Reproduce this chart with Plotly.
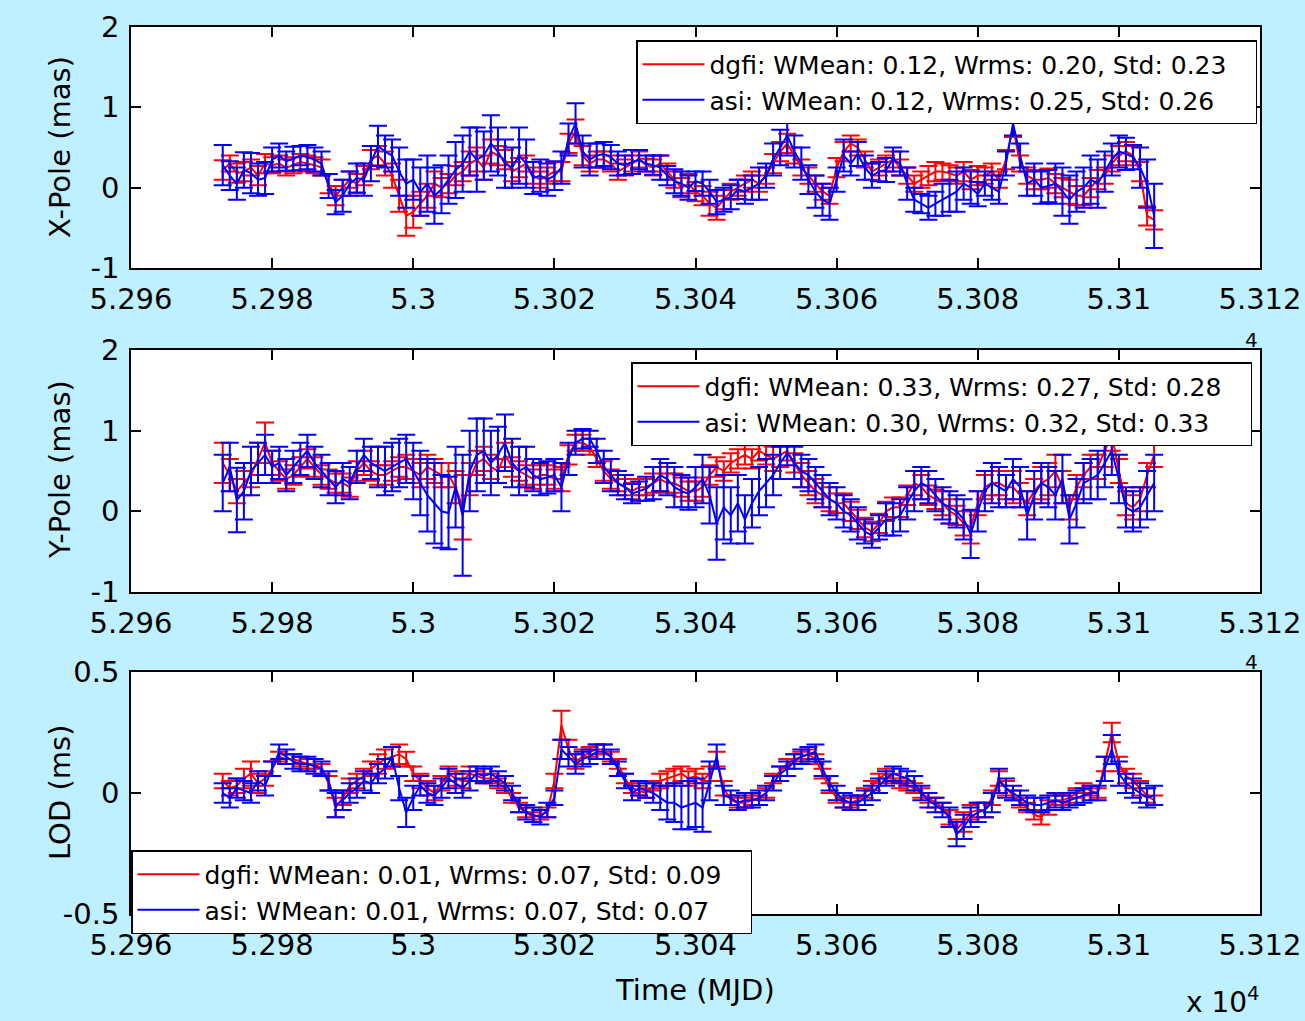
import plotly.graph_objects as go

# ---------------- data (daily MJD) ----------------
MJD = list(range(52973, 53106))

XP_ASI = [0.28,0.15, 0.05,0.22, 0.18,0.10, 0.12,0.35, 0.40,0.33, 0.36,0.40, 0.38,0.35, 0.30,0.02, -0.18,-0.10, 0.05,0.12,
          0.10,0.30, 0.52,0.45, 0.40,0.20, 0.05,0.10, -0.05,0.05, -0.10,-0.02, 0.10,0.22, 0.30,0.45, 0.35,0.40, 0.55,0.45,
          0.30,0.25, 0.40,0.30, 0.12,0.15, 0.10,0.15, 0.25,0.60, 0.80,0.45, 0.35,0.40, 0.42,0.38, 0.30,0.28, 0.32,0.35,
          0.30,0.28, 0.25,0.15, 0.08,0.05, 0.00,0.08, 0.05,-0.05, -0.18,-0.15, -0.12,-0.02, -0.05,0.00, 0.05,0.15, 0.35,0.50,
          0.65,0.45, 0.30,0.10, -0.05,-0.15, -0.20,0.10, 0.40,0.30, 0.42,0.25, 0.15,0.20, 0.22,0.35, 0.30,0.05, -0.15,-0.20,
          -0.25,-0.20, -0.15,-0.10, -0.05,0.05, 0.00,-0.08, 0.05,0.00, -0.05,0.30, 0.80,0.40, 0.05,0.10, 0.00,0.02, 0.05,-0.05,
          -0.15,-0.05, 0.00,0.10, 0.05,0.20, 0.35,0.45, 0.42,0.38, 0.25,0.05, -0.35]
XP_ASI_ERR = [0.25,0.18, 0.2,0.22, 0.25,0.2, 0.2,0.15, 0.15,0.12, 0.15,0.12, 0.15,0.15, 0.15,0.15, 0.15,0.2, 0.15,0.18,
              0.2,0.22, 0.25,0.2, 0.2,0.3, 0.3,0.25, 0.3,0.35, 0.35,0.3, 0.3,0.35, 0.35,0.3, 0.4,0.3, 0.35,0.3,
              0.3,0.25, 0.35,0.3, 0.2,0.2, 0.2,0.18, 0.2,0.2, 0.25,0.2, 0.2,0.15, 0.15,0.15, 0.15,0.12, 0.15,0.12,
              0.1,0.12, 0.15,0.12, 0.15,0.15, 0.15,0.12, 0.15,0.15, 0.15,0.15, 0.15,0.12, 0.15,0.15, 0.2,0.15, 0.2,0.22,
              0.25,0.2, 0.2,0.18, 0.2,0.2, 0.2,0.15, 0.2,0.15, 0.15,0.15, 0.15,0.12, 0.15,0.15, 0.15,0.2, 0.15,0.12,
              0.15,0.15, 0.2,0.2, 0.25,0.2, 0.2,0.15, 0.15,0.15, 0.15,0.15, 0.15,0.15, 0.15,0.2, 0.2,0.2, 0.25,0.3,
              0.3,0.25, 0.25,0.3, 0.3,0.25, 0.2,0.2, 0.2,0.15, 0.25,0.3, 0.4]
XP_DGFI = [0.22,0.30, 0.18,0.20, 0.25,0.15, 0.30,0.28, 0.30,0.25, 0.28,0.32, 0.30,0.28, 0.25,0.05, -0.10,0.00, 0.10,0.05,
           0.15,0.35, 0.40,0.30, 0.15,-0.10, -0.35,-0.30, -0.20,-0.10, 0.05,0.00, 0.05,0.15, 0.20,0.30, 0.35,0.25, 0.45,0.40,
           0.35,0.20, 0.25,0.30, 0.15,0.10, 0.15,0.20, 0.20,0.55, 0.70,0.40, 0.30,0.35, 0.35,0.30, 0.20,0.25, 0.30,0.35,
           0.28,0.25, 0.30,0.20, 0.10,0.00, 0.05,-0.05, -0.10,-0.20, -0.25,-0.15, -0.05,0.00, 0.05,0.10, 0.05,0.15, 0.30,0.45,
           0.55,0.40, 0.25,0.15, 0.05,-0.05, -0.10,0.25, 0.45,0.55, 0.50,0.35, 0.20,0.25, 0.30,0.35, 0.25,0.15, 0.05,0.10,
           0.15,0.20, 0.20,0.18, 0.15,0.20, 0.10,0.15, 0.15,0.20, 0.10,0.35, 0.75,0.30, 0.15,0.10, 0.10,0.12, 0.05,0.00,
           -0.05,-0.10, -0.10,0.00, 0.10,0.15, 0.30,0.40, 0.45,0.40, 0.20,-0.35, -0.40]
XP_DGFI_ERR = [0.12,0.1, 0.12,0.12, 0.1,0.12, 0.12,0.1, 0.1,0.1, 0.1,0.1, 0.1,0.1, 0.1,0.12, 0.12,0.1, 0.1,0.12,
               0.12,0.12, 0.12,0.15, 0.15,0.2, 0.25,0.2, 0.15,0.15, 0.15,0.12, 0.12,0.12, 0.12,0.15, 0.15,0.15, 0.15,0.12,
               0.12,0.12, 0.12,0.1, 0.1,0.1, 0.1,0.12, 0.12,0.12, 0.15,0.12, 0.1,0.1, 0.1,0.1, 0.1,0.1, 0.1,0.1,
               0.08,0.1, 0.1,0.1, 0.1,0.12, 0.12,0.12, 0.12,0.15, 0.15,0.12, 0.1,0.1, 0.1,0.1, 0.1,0.1, 0.12,0.12,
               0.12,0.1, 0.1,0.1, 0.1,0.1, 0.1,0.12, 0.12,0.1, 0.1,0.1, 0.1,0.1, 0.1,0.1, 0.1,0.1, 0.1,0.1,
               0.12,0.12, 0.1,0.1, 0.1,0.12, 0.12,0.12, 0.1,0.1, 0.1,0.12, 0.12,0.1, 0.1,0.12, 0.12,0.12, 0.12,0.12,
               0.15,0.12, 0.12,0.12, 0.12,0.1, 0.1,0.12, 0.12,0.12, 0.12,0.12, 0.12]

YP_ASI = [0.35,0.55, 0.14,0.25, 0.50,0.60, 0.70,0.55, 0.60,0.45, 0.55,0.65, 0.75,0.60, 0.50,0.40, 0.30,0.40, 0.35,0.55,
          0.70,0.60, 0.55,0.50, 0.55,0.60, 0.65,0.50, 0.35,0.20, 0.10,0.00, -0.02,0.30, -0.05,0.50, 0.70,0.75, 0.60,0.70,
          0.85,0.60, 0.50,0.55, 0.45,0.40, 0.42,0.45, 0.30,0.65, 0.85,0.90, 0.90,0.75, 0.55,0.45, 0.35,0.30, 0.22,0.25,
          0.28,0.35, 0.45,0.40, 0.30,0.25, 0.22,0.30, 0.40,0.20, -0.15,0.05, -0.05,0.10, -0.10,0.10, 0.25,0.35, 0.45,0.60,
          0.72,0.60, 0.50,0.45, 0.35,0.25, 0.15,0.10, 0.00,-0.05, -0.15,-0.25, -0.30,-0.20, -0.10,-0.10, -0.05,0.10, 0.25,0.35,
          0.30,0.20, 0.10,0.05, 0.00,-0.10, -0.28,0.00, 0.25,0.35, 0.30,0.25, 0.40,0.30, -0.05,0.20, 0.35,0.30, 0.20,0.40,
          -0.10,0.10, 0.35,0.40, 0.45,0.60, 0.75,0.40, 0.05,0.00, 0.05,0.20, 0.35]
YP_ASI_ERR = [0.35,0.3, 0.4,0.35, 0.3,0.25, 0.25,0.2, 0.2,0.2, 0.2,0.2, 0.2,0.2, 0.2,0.2, 0.2,0.2, 0.2,0.2,
              0.2,0.2, 0.25,0.3, 0.3,0.3, 0.3,0.35, 0.4,0.45, 0.5,0.45, 0.45,0.5, 0.75,0.5, 0.45,0.4, 0.4,0.35,
              0.35,0.3, 0.3,0.25, 0.2,0.2, 0.2,0.2, 0.3,0.2, 0.15,0.12, 0.1,0.15, 0.2,0.2, 0.15,0.15, 0.12,0.12,
              0.15,0.2, 0.2,0.2, 0.25,0.2, 0.2,0.25, 0.3,0.35, 0.45,0.4, 0.35,0.35, 0.3,0.3, 0.3,0.3, 0.25,0.2,
              0.15,0.2, 0.2,0.2, 0.2,0.2, 0.2,0.2, 0.2,0.2, 0.2,0.15, 0.15,0.15, 0.2,0.2, 0.2,0.2, 0.25,0.2,
              0.2,0.2, 0.2,0.2, 0.2,0.25, 0.3,0.25, 0.25,0.25, 0.25,0.2, 0.25,0.25, 0.3,0.3, 0.25,0.25, 0.3,0.3,
              0.3,0.3, 0.25,0.25, 0.3,0.3, 0.3,0.3, 0.25,0.25, 0.25,0.3, 0.35]
YP_DGFI = [0.60,0.45, 0.25,0.35, 0.45,0.65, 0.85,0.60, 0.50,0.40, 0.45,0.55, 0.65,0.55, 0.45,0.40, 0.35,0.35, 0.30,0.50,
           0.60,0.50, 0.45,0.45, 0.50,0.55, 0.55,0.50, 0.45,0.55, 0.50,0.45, 0.45,0.30, 0.05,0.40, 0.60,0.65, 0.55,0.50,
           0.70,0.55, 0.50,0.45, 0.40,0.45, 0.45,0.40, 0.40,0.70, 0.85,0.85, 0.80,0.65, 0.50,0.40, 0.35,0.30, 0.25,0.30,
           0.30,0.35, 0.40,0.35, 0.35,0.30, 0.25,0.25, 0.30,0.45, 0.55,0.50, 0.60,0.65, 0.70,0.65, 0.75,0.70, 0.65,0.70,
           0.75,0.60, 0.45,0.35, 0.25,0.20, 0.15,0.10, 0.10,0.00, -0.10,-0.20, -0.25,-0.15, 0.00,0.05, 0.05,0.20, 0.35,0.30,
           0.20,0.15, 0.10,0.00, -0.05,-0.15, -0.20,0.10, 0.30,0.35, 0.35,0.30, 0.30,0.20, 0.10,0.25, 0.35,0.40, 0.50,0.30,
           0.05,0.30, 0.45,0.55, 0.55,0.75, 0.95,0.50, 0.10,0.05, 0.15,0.45, 0.70]
YP_DGFI_ERR = [0.25,0.2, 0.15,0.15, 0.15,0.2, 0.25,0.15, 0.12,0.12, 0.12,0.12, 0.12,0.12, 0.12,0.12, 0.12,0.12, 0.12,0.12,
               0.15,0.12, 0.12,0.12, 0.12,0.12, 0.15,0.15, 0.15,0.15, 0.15,0.15, 0.15,0.2, 0.4,0.2, 0.15,0.15, 0.15,0.15,
               0.15,0.12, 0.12,0.12, 0.12,0.12, 0.12,0.12, 0.15,0.12, 0.1,0.1, 0.1,0.1, 0.12,0.12, 0.1,0.1, 0.1,0.1,
               0.1,0.12, 0.15,0.12, 0.12,0.12, 0.12,0.12, 0.12,0.12, 0.12,0.12, 0.12,0.12, 0.12,0.12, 0.12,0.12, 0.15,0.15,
               0.12,0.12, 0.15,0.15, 0.15,0.15, 0.15,0.12, 0.12,0.12, 0.12,0.12, 0.12,0.12, 0.12,0.12, 0.12,0.12, 0.15,0.15,
               0.12,0.12, 0.15,0.15, 0.12,0.15, 0.2,0.15, 0.15,0.15, 0.15,0.15, 0.2,0.15, 0.15,0.15, 0.2,0.2, 0.2,0.2,
               0.15,0.15, 0.15,0.15, 0.15,0.2, 0.2,0.15, 0.15,0.15, 0.15,0.15, 0.15]

LOD_ASI = [0.00,-0.02, 0.02,0.01, 0.00,0.05, 0.03,0.10, 0.17,0.15, 0.13,0.12, 0.12,0.11, 0.10,0.05, -0.05,-0.03, 0.00,0.02,
           0.05,0.04, 0.08,0.10, 0.15,0.02, -0.08,-0.02, 0.03,0.00, -0.01,0.02, 0.06,0.04, 0.02,0.05, 0.08,0.07, 0.08,0.06,
           0.04,0.00, -0.05,-0.08, -0.09,-0.10, -0.07,-0.02, 0.18,0.15, 0.12,0.14, 0.15,0.17, 0.17,0.15, 0.10,0.05, 0.00,0.02,
           0.01,0.00, -0.02,-0.04, -0.04,-0.06, -0.05,-0.04, -0.06,0.05, 0.15,-0.01, -0.02,-0.04, -0.03,-0.03, -0.02,0.00, 0.04,0.08,
           0.10,0.13, 0.15,0.16, 0.17,0.10, 0.04,0.00, -0.03,-0.04, -0.04,-0.02, 0.00,0.03, 0.06,0.08, 0.07,0.06, 0.04,0.00,
           -0.03,-0.05, -0.07,-0.10, -0.17,-0.14, -0.10,-0.08, -0.07,-0.04, 0.05,0.02, 0.00,-0.02, -0.04,-0.05, -0.05,-0.04, -0.03,-0.04,
           -0.03,-0.02, -0.01,0.00, 0.00,0.10, 0.18,0.08, 0.04,0.02, 0.00,-0.02, -0.01]
LOD_ASI_ERR = [0.04,0.04, 0.04,0.04, 0.04,0.04, 0.04,0.03, 0.03,0.03, 0.03,0.03, 0.03,0.03, 0.03,0.04, 0.05,0.04, 0.04,0.04,
               0.04,0.04, 0.04,0.04, 0.04,0.05, 0.06,0.05, 0.04,0.04, 0.04,0.04, 0.04,0.04, 0.04,0.04, 0.03,0.03, 0.03,0.03,
               0.03,0.03, 0.03,0.03, 0.03,0.03, 0.03,0.03, 0.04,0.04, 0.04,0.03, 0.03,0.03, 0.03,0.03, 0.03,0.03, 0.03,0.03,
               0.03,0.04, 0.05,0.07, 0.08,0.09, 0.1,0.1, 0.1,0.08, 0.05,0.04, 0.03,0.03, 0.03,0.03, 0.03,0.03, 0.03,0.03,
               0.03,0.03, 0.03,0.03, 0.03,0.03, 0.03,0.03, 0.03,0.03, 0.03,0.03, 0.03,0.03, 0.03,0.03, 0.03,0.03, 0.03,0.03,
               0.03,0.03, 0.03,0.04, 0.05,0.05, 0.04,0.04, 0.03,0.04, 0.05,0.04, 0.03,0.03, 0.03,0.03, 0.03,0.03, 0.03,0.03,
               0.03,0.03, 0.03,0.03, 0.03,0.05, 0.06,0.05, 0.04,0.04, 0.04,0.04, 0.04]
LOD_DGFI = [0.05,0.02, 0.03,0.06, 0.08,0.04, 0.06,0.10, 0.15,0.14, 0.14,0.13, 0.12,0.12, 0.10,0.04, -0.06,-0.02, 0.03,0.05,
            0.07,0.10, 0.12,0.14, 0.15,0.16, 0.14,0.08, 0.05,0.02, 0.00,0.04, 0.08,0.06, 0.05,0.08, 0.07,0.06, 0.06,0.04,
            0.02,-0.02, -0.06,-0.08, -0.10,-0.09, -0.08,0.05, 0.28,0.18, 0.13,0.15, 0.17,0.18, 0.18,0.15, 0.12,0.06, 0.02,0.01,
            0.00,0.03, 0.05,0.06, 0.07,0.08, 0.06,0.07, 0.05,0.08, 0.14,0.02, -0.03,-0.04, -0.04,-0.03, -0.03,0.00, 0.06,0.09,
            0.12,0.14, 0.15,0.16, 0.14,0.08, 0.02,-0.02, -0.04,-0.04, -0.03,0.00, 0.03,0.06, 0.08,0.06, 0.04,0.03, 0.02,0.00,
            -0.02,-0.04, -0.06,-0.10, -0.15,-0.12, -0.08,-0.07, -0.07,-0.02, 0.06,0.02, -0.01,-0.04, -0.06,-0.09, -0.10,-0.06, -0.03,-0.03,
            -0.02,0.00, 0.02,0.01, 0.00,0.12, 0.25,0.12, 0.07,0.05, 0.02,-0.01, -0.03]
LOD_DGFI_ERR = [0.03,0.03, 0.03,0.04, 0.05,0.04, 0.03,0.03, 0.02,0.02, 0.02,0.02, 0.02,0.02, 0.02,0.03, 0.04,0.03, 0.03,0.03,
                0.03,0.03, 0.04,0.04, 0.04,0.04, 0.03,0.03, 0.03,0.03, 0.03,0.03, 0.03,0.03, 0.03,0.03, 0.02,0.02, 0.02,0.02,
                0.02,0.02, 0.02,0.02, 0.02,0.02, 0.02,0.03, 0.06,0.04, 0.03,0.03, 0.02,0.02, 0.02,0.02, 0.02,0.02, 0.02,0.02,
                0.02,0.02, 0.03,0.03, 0.03,0.03, 0.03,0.03, 0.03,0.03, 0.03,0.03, 0.02,0.02, 0.02,0.02, 0.02,0.02, 0.02,0.02,
                0.02,0.02, 0.02,0.02, 0.02,0.02, 0.02,0.02, 0.02,0.02, 0.02,0.02, 0.02,0.02, 0.02,0.02, 0.02,0.02, 0.02,0.02,
                0.02,0.02, 0.02,0.03, 0.04,0.04, 0.03,0.03, 0.03,0.03, 0.03,0.03, 0.02,0.02, 0.02,0.02, 0.03,0.03, 0.02,0.02,
                0.02,0.02, 0.02,0.02, 0.02,0.03, 0.04,0.03, 0.03,0.03, 0.03,0.03, 0.02]

LEGEND_XP = ["dgfi: WMean: 0.12, Wrms: 0.20, Std: 0.23",
             "asi: WMean: 0.12, Wrms: 0.25, Std: 0.26"]
LEGEND_YP = ["dgfi: WMean: 0.33, Wrms: 0.27, Std: 0.28",
             "asi: WMean: 0.30, Wrms: 0.32, Std: 0.33"]
LEGEND_LOD = ["dgfi: WMean: 0.01, Wrms: 0.07, Std: 0.09",
              "asi: WMean: 0.01, Wrms: 0.07, Std: 0.07"]

X_TICKVALS = [52960, 52980, 53000, 53020, 53040, 53060, 53080, 53100, 53120]
X_TICKTEXT = ["5.296", "5.298", "5.3", "5.302", "5.304", "5.306", "5.308", "5.31", "5.312"]
Y_TICKVALS = [[-1, 0, 1, 2], [-1, 0, 1, 2], [-0.5, 0, 0.5]]
Y_TICKTEXT = [["-1", "0", "1", "2"], ["-1", "0", "1", "2"], ["-0.5", "0", "0.5"]]
Y_TITLES = ["X-Pole (mas)", "Y-Pole (mas)", "LOD (ms)"]
X_TITLE = "Time (MJD)"

for _s in (XP_ASI, XP_ASI_ERR, XP_DGFI, XP_DGFI_ERR, YP_ASI, YP_ASI_ERR, YP_DGFI, YP_DGFI_ERR,
           LOD_ASI, LOD_ASI_ERR, LOD_DGFI, LOD_DGFI_ERR):
    assert len(_s) == len(MJD), len(_s)

# ---------------- figure ----------------
W, H = 1305, 1021
BG = "rgb(191,240,255)"
FONT = "DejaVu Sans"
PAD = "\u00a0\u00a0\u00a0"

fig = go.Figure()

panels = [
    (XP_DGFI, XP_DGFI_ERR, XP_ASI, XP_ASI_ERR, LEGEND_XP, "legend"),
    (YP_DGFI, YP_DGFI_ERR, YP_ASI, YP_ASI_ERR, LEGEND_YP, "legend2"),
    (LOD_DGFI, LOD_DGFI_ERR, LOD_ASI, LOD_ASI_ERR, LEGEND_LOD, "legend3"),
]
for i, (rv, re, bv, be, names, leg) in enumerate(panels):
    sfx = "" if i == 0 else str(i + 1)
    for vals, errs, col, name in [(rv, re, "#ff0000", names[0]), (bv, be, "#0000ff", names[1])]:
        fig.add_trace(go.Scatter(
            x=MJD, y=vals, mode="lines", name=name + PAD,
            line=dict(color=col, width=2),
            error_y=dict(type="data", array=errs, visible=True, color=col, thickness=2, width=9),
            xaxis="x" + sfx, yaxis="y" + sfx, legend=leg, legendgroup=name,
        ))

def ydom(top, bot):
    return [1 - bot / H, 1 - top / H]

xdom = [131 / W, 1260 / W]
ydoms = [ydom(27, 268), ydom(350, 592), ydom(672, 914)]
yranges = [[-1, 2], [-1, 2], [-0.5, 0.5]]
ycenters = [147, 470, 793]

axis_common = dict(showline=True, linecolor="black", linewidth=1.5, mirror="ticks",
                   ticks="inside", ticklen=10, tickwidth=1.5, tickcolor="black",
                   showgrid=False, zeroline=False, automargin=False,
                   tickfont=dict(family=FONT, size=29, color="black"))

layout = dict(width=W, height=H, paper_bgcolor=BG, plot_bgcolor="white",
              margin=dict(l=0, r=0, t=0, b=0, autoexpand=False), showlegend=True,
              font=dict(family=FONT, color="black"))
for i in range(3):
    sfx = "" if i == 0 else str(i + 1)
    layout["xaxis" + sfx] = dict(axis_common, domain=xdom, range=[52960, 53120],
                                 tickvals=X_TICKVALS, ticktext=X_TICKTEXT,
                                 anchor="y" + sfx, ticklabelstandoff=4)
    layout["yaxis" + sfx] = dict(axis_common, domain=ydoms[i], range=yranges[i],
                                 tickvals=Y_TICKVALS[i], ticktext=Y_TICKTEXT[i],
                                 anchor="x" + sfx, ticklabelstandoff=4)

leg_common = dict(bgcolor="white", bordercolor="black", borderwidth=1.5,
                  font=dict(family=FONT, size=25, color="black"),
                  xanchor="left", yanchor="top", itemwidth=62,
                  tracegroupgap=0, traceorder="grouped")
layout["legend"] = dict(leg_common, x=636 / W, y=1 - 40 / H)
layout["legend2"] = dict(leg_common, x=631 / W, y=1 - 362 / H)
layout["legend3"] = dict(leg_common, x=131 / W, y=1 - 850 / H)

fig.update_layout(**layout)

for i in range(3):
    fig.add_annotation(x=60 / W, y=1 - ycenters[i] / H, xref="paper", yref="paper",
                       text=Y_TITLES[i], textangle=-90, showarrow=False,
                       xanchor="center", yanchor="middle",
                       font=dict(family=FONT, size=29, color="black"))
fig.add_annotation(x=695 / W, y=1 - 990 / H, xref="paper", yref="paper",
                   text=X_TITLE, showarrow=False, xanchor="center", yanchor="middle",
                   font=dict(family=FONT, size=29, color="black"))
fig.add_annotation(x=1262 / W, y=1 - 1000 / H, xref="paper", yref="paper",
                   text="x 10<sup>4</sup>", showarrow=False, xanchor="right", yanchor="middle",
                   font=dict(family=FONT, size=28, color="black"))
for ypix in (340, 662):
    fig.add_annotation(x=1260 / W, y=1 - ypix / H, xref="paper", yref="paper",
                       text="4", showarrow=False, xanchor="right", yanchor="middle",
                       font=dict(family=FONT, size=20, color="black"))

fig.write_html("out.html", config={"displayModeBar": False},
               post_script="document.body.style.margin='0';document.body.style.overflow='hidden';")
